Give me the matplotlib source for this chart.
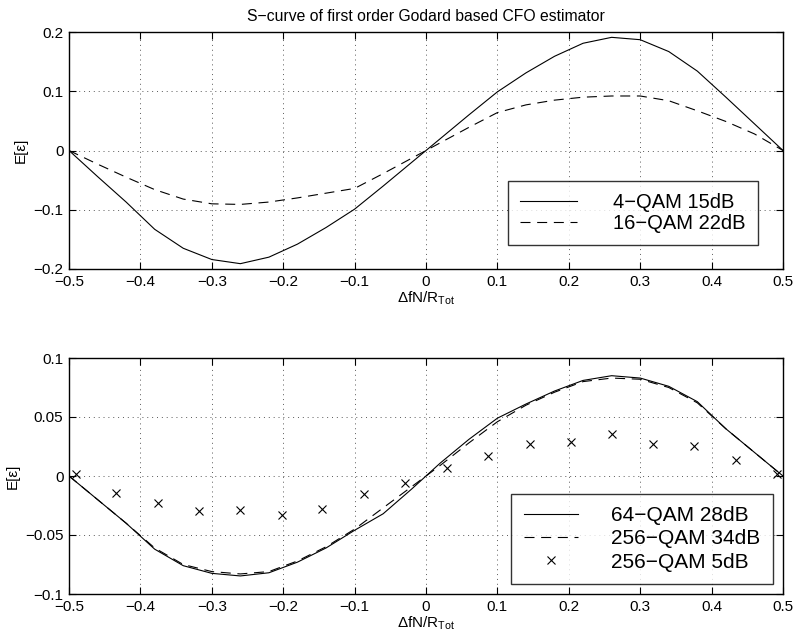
import matplotlib
matplotlib.use("Agg")
import matplotlib.pyplot as plt
import numpy as np

plt.rcParams['font.family'] = ['Liberation Sans', 'DejaVu Sans']
plt.rcParams['mathtext.fontset'] = 'custom'
plt.rcParams['mathtext.rm'] = 'Liberation Sans'
plt.rcParams['mathtext.it'] = 'Liberation Sans:italic'

# frequency offset grid (dfN/R_Tot)
x_grid = [-0.5, -0.46, -0.42, -0.38, -0.34, -0.30, -0.26, -0.22, -0.18, -0.14, -0.10, -0.06, -0.02,
          0.02, 0.06, 0.10, 0.14, 0.18, 0.22, 0.26, 0.30, 0.34, 0.38, 0.42, 0.46, 0.5]

# top panel
qam4_15 = [0.0, -0.044, -0.087, -0.133, -0.165, -0.184, -0.191, -0.180, -0.158, -0.130, -0.099, -0.060, -0.020,
           0.020, 0.060, 0.099, 0.131, 0.159, 0.181, 0.191, 0.187, 0.167, 0.134, 0.090, 0.045, 0.0]
qam16_22 = [0.0, -0.023, -0.045, -0.066, -0.082, -0.090, -0.091, -0.087, -0.080, -0.072, -0.064, -0.039, -0.013,
            0.013, 0.039, 0.064, 0.077, 0.085, 0.090, 0.092, 0.092, 0.084, 0.067, 0.049, 0.028, 0.0]

# bottom panel
qam64_28 = [0.0, -0.020, -0.040, -0.062, -0.076, -0.0825, -0.0847, -0.082, -0.073, -0.061, -0.046, -0.032, -0.011,
            0.011, 0.031, 0.049, 0.061, 0.072, 0.081, 0.085, 0.083, 0.076, 0.063, 0.040, 0.020, 0.0]
qam256_34 = [0.0, -0.020, -0.040, -0.061, -0.075, -0.081, -0.083, -0.081, -0.072, -0.060, -0.045, -0.027, -0.009,
             0.009, 0.028, 0.046, 0.060, 0.071, 0.080, 0.083, 0.082, 0.075, 0.062, 0.040, 0.020, 0.0]

x_marks = [-0.49, -0.434, -0.376, -0.318, -0.26, -0.202, -0.145, -0.087, -0.029,
           0.029, 0.087, 0.145, 0.203, 0.26, 0.318, 0.376, 0.434, 0.492]
qam256_5 = [0.0014, -0.0144, -0.0229, -0.0297, -0.0285, -0.033, -0.028, -0.015, -0.0062,
            0.0068, 0.017, 0.0268, 0.029, 0.0356, 0.0268, 0.0254, 0.0136, 0.0017]

xticks = [-0.5, -0.4, -0.3, -0.2, -0.1, 0, 0.1, 0.2, 0.3, 0.4, 0.5]
xtick_labels = ['\u22120.5', '\u22120.4', '\u22120.3', '\u22120.2', '\u22120.1', '0',
                '0.1', '0.2', '0.3', '0.4', '0.5']
yticks_top = [-0.2, -0.1, 0, 0.1, 0.2]
ytick_labels_top = ['\u22120.2', '\u22120.1', '0', '0.1', '0.2']
yticks_bot = [-0.1, -0.05, 0, 0.05, 0.1]
ytick_labels_bot = ['\u22120.1', '\u22120.05', '0', '0.05', '0.1']

W, H = 797, 643
fig = plt.figure(figsize=(W / 100, H / 100), dpi=100)


def px_axes(left, top, right, bottom):
    return fig.add_axes([left / W, 1 - bottom / H, (right - left) / W, (bottom - top) / H])


def style(ax, yt, ytl):
    ax.set_xlim(-0.5, 0.5)
    ax.set_xticks(xticks)
    ax.set_xticklabels(xtick_labels)
    ax.set_ylim(yt[0], yt[-1])
    ax.set_yticks(yt)
    ax.set_yticklabels(ytl)
    ax.grid(True, linestyle=(0, (1, 4)), color='0.35', linewidth=0.7)
    ax.tick_params(direction='in', length=5, width=0.8, top=True, right=True, labelsize=11, pad=4)
    for s in ax.spines.values():
        s.set_linewidth(1.0)
    ax.set_ylabel('E[\u03b5]', fontsize=11, labelpad=4)
    ax.set_xlabel(r'$\Delta$fN/R$_{\rm Tot}$', fontsize=11, labelpad=1)


ax1 = px_axes(69, 32, 783, 269)
ax1.plot(x_grid, qam4_15, color='k', lw=0.8, label='4\u2212QAM 15dB')
ax1.plot(x_grid, qam16_22, color='k', lw=0.8, dashes=(9, 6), label='16\u2212QAM 22dB')
style(ax1, yticks_top, ytick_labels_top)
ax1.set_title('S\u2212curve of first order Godard based CFO estimator', fontsize=11.3, pad=8)
leg1 = ax1.legend(loc='lower right', bbox_to_anchor=(0.965, 0.101), fontsize=14.5, frameon=True,
                  fancybox=False, edgecolor='k', handlelength=2.85, handletextpad=1.8,
                  borderpad=0.6, labelspacing=0.1, borderaxespad=0)
leg1.get_frame().set_linewidth(1.0)

ax2 = px_axes(69, 358, 783, 594)
ax2.plot(x_grid, qam64_28, color='k', lw=0.8, label='64\u2212QAM 28dB')
ax2.plot(x_grid, qam256_34, color='k', lw=0.8, dashes=(9, 6), label='256\u2212QAM 34dB')
ax2.plot(x_marks, qam256_5, linestyle='none', marker='x', color='k', markersize=6,
         markeredgewidth=0.8, label='256\u2212QAM 5dB')
style(ax2, yticks_bot, ytick_labels_bot)
leg2 = ax2.legend(loc='lower right', bbox_to_anchor=(0.986, 0.042), fontsize=15, frameon=True,
                  fancybox=False, edgecolor='k', handlelength=2.6, handletextpad=1.6,
                  borderpad=0.6, labelspacing=0.2, borderaxespad=0)
leg2.get_frame().set_linewidth(1.0)

fig.savefig('out.png', dpi=100)
